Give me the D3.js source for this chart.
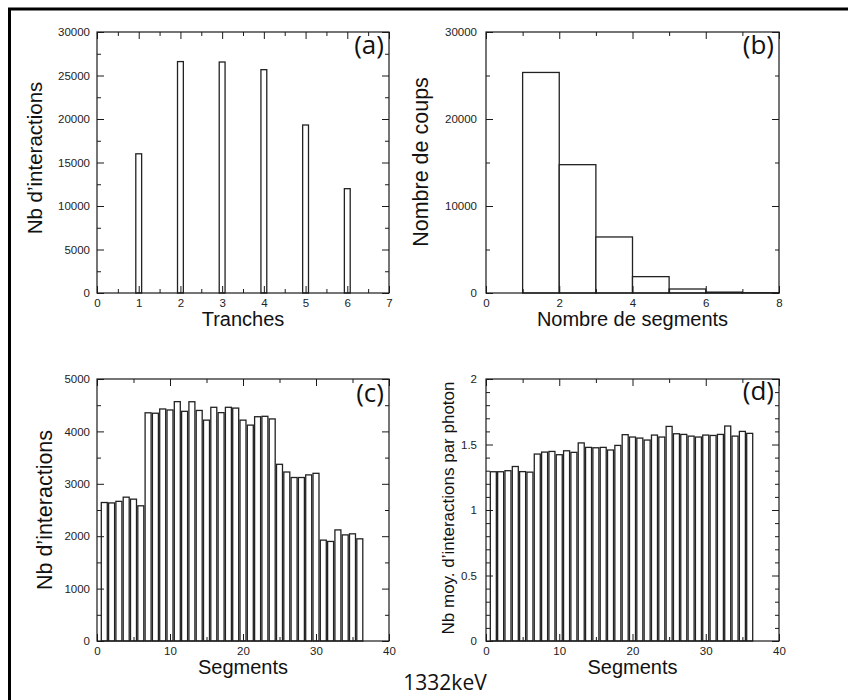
<!DOCTYPE html>
<html>
<head>
<meta charset="utf-8">
<script src="https://cdn.jsdelivr.net/npm/d3@7"></script>
<style>
  html, body { margin: 0; padding: 0; background: #fff; }
  svg { display: block; }
</style>
</head>
<body>
<svg id="chart" width="848" height="700"></svg>
<script>
// ---------------- DATA ----------------
// (a) interactions per slice
const tranches = [1, 2, 3, 4, 5, 6];
const tranchesCounts = [16000, 26600, 26550, 25670, 19310, 11990];

// (b) histogram of number of hit segments (bin start values)
const segBinsStart = [1, 2, 3, 4, 5, 6, 7];
const nbCoups = [25350, 14750, 6440, 1880, 460, 100, 30];

// (c) / (d) per segment
const segments = [1, 2, 3, 4, 5, 6, 7, 8, 9, 10, 11, 12, 13, 14, 15, 16, 17, 18,
                  19, 20, 21, 22, 23, 24, 25, 26, 27, 28, 29, 30, 31, 32, 33, 34, 35, 36];
const segInteractions = [2643, 2635, 2665, 2745, 2707, 2580, 4355, 4347, 4428, 4409, 4568, 4383,
                         4566, 4400, 4215, 4460, 4358, 4460, 4445, 4215, 4120, 4280, 4288, 4238,
                         3372, 3225, 3120, 3120, 3170, 3200, 1925, 1900, 2120, 2025, 2045, 1950];
const segMeanInter = [1.292, 1.292, 1.300, 1.332, 1.293, 1.289, 1.427, 1.442, 1.447, 1.422, 1.452, 1.440,
                      1.512, 1.478, 1.475, 1.478, 1.458, 1.493, 1.575, 1.557, 1.549, 1.534, 1.572, 1.557,
                      1.638, 1.582, 1.577, 1.564, 1.557, 1.572, 1.569, 1.577, 1.641, 1.564, 1.600, 1.585];

// tick values
const ticksA_x = [0, 1, 2, 3, 4, 5, 6, 7];
const ticksA_xMinor = [0.5, 1.5, 2.5, 3.5, 4.5, 5.5, 6.5];
const ticksA_y = [0, 5000, 10000, 15000, 20000, 25000, 30000];
const ticksA_yMinor = [2500, 7500, 12500, 17500, 22500, 27500];
const ticksB_x = [0, 2, 4, 6, 8];
const ticksB_xMinor = [1, 3, 5, 7];
const ticksB_y = [0, 10000, 20000, 30000];
const ticksB_yMinor = [5000, 15000, 25000];
const ticksC_x = [0, 10, 20, 30, 40];
const ticksC_xMinor = [5, 15, 25, 35];
const ticksC_y = [0, 1000, 2000, 3000, 4000, 5000];
const ticksC_yMinor = [500, 1500, 2500, 3500, 4500];
const ticksD_x = [0, 10, 20, 30, 40];
const ticksD_xMinor = [5, 15, 25, 35];
const ticksD_y = [0, 0.5, 1, 1.5, 2];
const ticksD_yMinor = [0.1, 0.2, 0.3, 0.4, 0.6, 0.7, 0.8, 0.9, 1.1, 1.2, 1.3, 1.4, 1.6, 1.7, 1.8, 1.9];

// ---------------- DRAW ----------------
const svg = d3.select("#chart");
const AX = "#1a1a1a";
const labelFont = "'Liberation Sans', Arial, Helvetica, sans-serif";
const tagFont = "'Open Sans', 'Noto Sans', sans-serif";

// outer frame (only top and left visible)
svg.append("rect").attr("x", 9.5).attr("y", 9).attr("width", 860).attr("height", 720)
  .attr("fill", "none").attr("stroke", "#000").attr("stroke-width", 3);

function panel(opt) {
  const x = d3.scaleLinear().domain(opt.xDomain).range([opt.x0, opt.x1]);
  const y = d3.scaleLinear().domain(opt.yDomain).range([opt.y1, opt.y0]);
  const g = svg.append("g");

  opt.draw(g, x, y);

  const fmt = opt.fmt || (d => d3.format("d")(d));
  function styleAxis(sel, labels) {
    sel.select(".domain").remove();
    sel.selectAll(".tick line").attr("stroke", AX).attr("stroke-width", 1);
    sel.selectAll("text").attr("font-family", labelFont).attr("font-size", 11.5).attr("fill", "#222");
    if (!labels) sel.selectAll("text").remove();
  }
  // bottom
  g.append("g").attr("transform", `translate(0,${opt.y1})`)
    .call(d3.axisBottom(x).tickValues(opt.xt).tickSize(-7).tickPadding(6).tickFormat(fmt))
    .call(s => styleAxis(s, true));
  g.append("g").attr("transform", `translate(0,${opt.y1})`)
    .call(d3.axisBottom(x).tickValues(opt.xtm).tickSize(-4).tickFormat(""))
    .call(s => styleAxis(s, false));
  // top
  g.append("g").attr("transform", `translate(0,${opt.y0})`)
    .call(d3.axisTop(x).tickValues(opt.xt).tickSize(-7).tickFormat(""))
    .call(s => styleAxis(s, false));
  g.append("g").attr("transform", `translate(0,${opt.y0})`)
    .call(d3.axisTop(x).tickValues(opt.xtm).tickSize(-4).tickFormat(""))
    .call(s => styleAxis(s, false));
  // left
  g.append("g").attr("transform", `translate(${opt.x0},0)`)
    .call(d3.axisLeft(y).tickValues(opt.yt).tickSize(-7).tickPadding(opt.ypad).tickFormat(opt.yfmt || fmt))
    .call(s => styleAxis(s, true));
  g.append("g").attr("transform", `translate(${opt.x0},0)`)
    .call(d3.axisLeft(y).tickValues(opt.ytm).tickSize(-4).tickFormat(""))
    .call(s => styleAxis(s, false));
  // right
  g.append("g").attr("transform", `translate(${opt.x1},0)`)
    .call(d3.axisRight(y).tickValues(opt.yt).tickSize(-7).tickFormat(""))
    .call(s => styleAxis(s, false));
  g.append("g").attr("transform", `translate(${opt.x1},0)`)
    .call(d3.axisRight(y).tickValues(opt.ytm).tickSize(-4).tickFormat(""))
    .call(s => styleAxis(s, false));

  // frame
  g.append("rect").attr("x", opt.x0).attr("y", opt.y0)
    .attr("width", opt.x1 - opt.x0).attr("height", opt.y1 - opt.y0)
    .attr("fill", "none").attr("stroke", AX).attr("stroke-width", 1.2);

  // x title
  g.append("text").attr("x", (opt.x0 + opt.x1) / 2).attr("y", opt.xtY)
    .attr("text-anchor", "middle").attr("font-family", labelFont)
    .attr("font-size", 20).attr("fill", "#111").text(opt.xTitle);
  // y title
  g.append("text").attr("transform", `translate(${opt.ytX},${opt.ytYc}) rotate(-90)`)
    .attr("text-anchor", "middle").attr("font-family", labelFont)
    .attr("font-size", opt.ytSize).attr("fill", "#111").text(opt.yTitle);
  // tag
  g.append("text").attr("x", opt.x1 - 5).attr("y", opt.tagY)
    .attr("text-anchor", "end").attr("font-family", tagFont)
    .attr("font-size", 26).attr("fill", "#111").text(opt.tag);
}

function barsCentered(data, values, w) {
  return (g, x, y) => {
    g.append("g").selectAll("rect").data(data).join("rect")
      .attr("x", (d) => x(d - w / 2))
      .attr("width", (d) => x(d + w / 2) - x(d - w / 2))
      .attr("y", (d, i) => y(values[i]))
      .attr("height", (d, i) => y(0) - y(values[i]))
      .attr("fill", "#fff").attr("stroke", "#222").attr("stroke-width", 1.3);
  };
}

// (a)
panel({
  x0: 97, x1: 389, y0: 32, y1: 293,
  xDomain: [0, 7], yDomain: [0, 30000],
  xt: ticksA_x, xtm: ticksA_xMinor, yt: ticksA_y, ytm: ticksA_yMinor,
  ypad: 7,
  draw: barsCentered(tranches, tranchesCounts, 0.14),
  xTitle: "Tranches", xtY: 326,
  yTitle: "Nb d\u2019interactions", ytX: 42, ytYc: 158, ytSize: 20.5,
  tag: "(a)", tagY: 54
});

// (b)
panel({
  x0: 486, x1: 779, y0: 32, y1: 293,
  xDomain: [0, 8], yDomain: [0, 30000],
  xt: ticksB_x, xtm: ticksB_xMinor, yt: ticksB_y, ytm: ticksB_yMinor,
  ypad: 9,
  draw: (g, x, y) => {
    g.append("g").selectAll("rect").data(segBinsStart).join("rect")
      .attr("x", d => x(d))
      .attr("width", d => x(d + 1) - x(d))
      .attr("y", (d, i) => y(nbCoups[i]))
      .attr("height", (d, i) => y(0) - y(nbCoups[i]))
      .attr("fill", "#fff").attr("stroke", "#222").attr("stroke-width", 1.3);
  },
  xTitle: "Nombre de segments", xtY: 326,
  yTitle: "Nombre de coups", ytX: 428, ytYc: 162, ytSize: 21.5,
  tag: "(b)", tagY: 54
});

// (c)
panel({
  x0: 97, x1: 389, y0: 379, y1: 641,
  xDomain: [0, 40], yDomain: [0, 5000],
  xt: ticksC_x, xtm: ticksC_xMinor, yt: ticksC_y, ytm: ticksC_yMinor,
  ypad: 7,
  draw: barsCentered(segments, segInteractions, 0.82),
  xTitle: "Segments", xtY: 674,
  yTitle: "Nb d\u2019interactions", ytX: 52, ytYc: 510, ytSize: 21.5,
  tag: "(c)", tagY: 402
});

// (d)
panel({
  x0: 486, x1: 779, y0: 379, y1: 641,
  xDomain: [0, 40], yDomain: [0, 2],
  xt: ticksD_x, xtm: ticksD_xMinor, yt: ticksD_y, ytm: ticksD_yMinor,
  ypad: 9, yfmt: d => String(d),
  draw: barsCentered(segments, segMeanInter, 0.82),
  xTitle: "Segments", xtY: 674,
  yTitle: "Nb moy. d\u2019interactions par photon", ytX: 454, ytYc: 508, ytSize: 17,
  tag: "(d)", tagY: 400
});

// energy label
svg.append("text").attr("x", 445).attr("y", 690).attr("text-anchor", "middle")
  .attr("font-family", tagFont).attr("font-size", 21).attr("fill", "#111").text("1332keV");
</script>
</body>
</html>
